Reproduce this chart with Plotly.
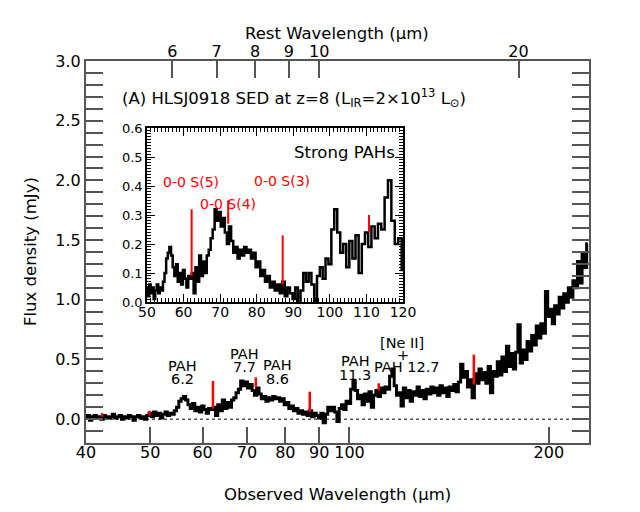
import numpy as np
import plotly.graph_objects as go

FONT = "DejaVu Sans"
W, H = 640, 512
# the page body adds an 8 px margin around the figure
OFF = 8

# redshift of the source, rest = observed / (1 + z)
z = 8.0

# spectrum: log-spaced channels starting at 40 micron (observed)
wave_start = 40.0
wave_ratio = 1.008
flux = [
    0.01, 0.03, -0.01, 0.02, 0.03, 0.01, 0.02, 0.00, 0.03, 0.02,
    0.01, 0.02, 0.04, 0.01, 0.02, 0.03, 0.00, 0.02, 0.01, 0.03,
    0.02, -0.01, 0.02, 0.03, 0.01, 0.02, 0.00, 0.03, 0.05, 0.02,
    0.06, 0.03, 0.05, 0.01, 0.04, 0.06, 0.03, 0.05, 0.04, 0.07,
    0.10, 0.15, 0.17, 0.19, 0.16, 0.12, 0.09, 0.13, 0.07, 0.10,
    0.06, 0.11, 0.08, 0.05, 0.09, 0.08, 0.10, 0.03, 0.12, 0.07,
    0.16, 0.09, 0.14, 0.10, 0.16, 0.18, 0.22, 0.25, 0.32, 0.28,
    0.31, 0.26, 0.29, 0.24, 0.20, 0.26, 0.21, 0.17, 0.19, 0.15,
    0.18, 0.16, 0.19, 0.17, 0.18, 0.15, 0.17, 0.12, 0.14, 0.09,
    0.11, 0.07, 0.09, 0.05, 0.07, 0.04, 0.06, 0.03, 0.07, 0.02,
    0.05, 0.03, 0.01, 0.05, -0.03, 0.04, 0.10, 0.07, 0.10, 0.06,
    -0.02, 0.09, 0.12, 0.08, 0.15, 0.13, 0.25, 0.32, 0.24, 0.17,
    0.20, 0.12, 0.21, 0.15, 0.23, 0.10, 0.20, 0.24, 0.19, 0.26,
    0.22, 0.27, 0.25, 0.36, 0.42, 0.28, 0.20, 0.22, 0.11, 0.26,
    0.18, 0.24, 0.15, 0.23, 0.20, 0.27, 0.19, 0.24, 0.17, 0.25,
    0.21, 0.27, 0.22, 0.26, 0.20, 0.28, 0.22, 0.26, 0.19, 0.27,
    0.24, 0.29, 0.23, 0.31, 0.46, 0.35, 0.40, 0.27, 0.33, 0.18,
    0.38, 0.30, 0.42, 0.33, 0.39, 0.30, 0.44, 0.22, 0.40, 0.36,
    0.48, 0.37, 0.52, 0.40, 0.61, 0.44, 0.55, 0.42, 0.56, 0.79,
    0.47, 0.58, 0.50, 0.65, 0.57, 0.70, 0.62, 0.78, 0.68, 0.80,
    0.72, 1.07, 0.86, 0.92, 0.80, 0.95, 0.88, 1.02, 0.93, 1.05,
    0.98, 1.10, 1.02, 1.16, 1.10, 1.32, 1.14, 1.39, 1.27, 1.47,
]
wave = wave_start * wave_ratio ** np.arange(len(flux))

# H2 0-0 S(n) lines (red marks): observed wavelength, bottom, top (mJy)
h2_wave = [42.3, 49.9, 62.2, 72.2, 87.1, 110.7, 154.1]
h2_low = [0.02, 0.03, 0.09, 0.27, 0.06, 0.24, 0.29]
h2_high = [0.05, 0.07, 0.32, 0.35, 0.23, 0.30, 0.54]

obs_range = [40, 230]
obs_ticks = [40, 50, 60, 70, 80, 90, 100, 200]
rest_ticks = [6, 7, 8, 9, 10, 20]
flux_ticks = [0.0, 0.5, 1.0, 1.5, 2.0, 2.5, 3.0]

inset_range = [50, 120]
inset_flux_range = [0, 0.6]


def px(x):
    return (x - OFF) / W


def py(y):
    return 1 - (y - OFF) / H


def segments(xs, lo, hi):
    sx, sy = [], []
    for w, a, b in zip(xs, lo, hi):
        sx += [w, w, None]
        sy += [a, b, None]
    return sx, sy


fig = go.Figure()

# main panel
fig.add_trace(go.Scatter(x=obs_range, y=[0, 0], mode="lines",
                         line=dict(color="#555555", width=1.5, dash="dot"),
                         hoverinfo="skip"))
fig.add_trace(go.Scatter(x=wave, y=flux, mode="lines",
                         line=dict(color="black", width=3, shape="hvh")))
rx, ry = segments(h2_wave, h2_low, h2_high)
fig.add_trace(go.Scatter(x=rx, y=ry, mode="lines",
                         line=dict(color="red", width=2.5)))
# dummy trace so the rest-frame axis is drawn
fig.add_trace(go.Scatter(x=rest_ticks, y=[-1] * len(rest_ticks),
                         xaxis="x2", yaxis="y", mode="markers",
                         marker=dict(opacity=0), hoverinfo="skip"))

# inset
fig.add_trace(go.Scatter(x=wave, y=flux, mode="lines", xaxis="x3", yaxis="y2",
                         line=dict(color="black", width=2.5, shape="hvh")))
inside = [k for k, w in enumerate(h2_wave) if inset_range[0] < w < inset_range[1]]
rx2, ry2 = segments([h2_wave[k] for k in inside],
                    [h2_low[k] for k in inside],
                    [h2_high[k] for k in inside])
fig.add_trace(go.Scatter(x=rx2, y=ry2, mode="lines", xaxis="x3", yaxis="y2",
                         line=dict(color="red", width=2)))

frame = "#555555"

fig.update_layout(
    width=W, height=H, template="none", showlegend=False,
    margin=dict(l=0, r=0, t=0, b=0),
    paper_bgcolor="white", plot_bgcolor="white",
    font=dict(family=FONT, color="black", size=16),
    xaxis=dict(type="log", domain=[px(86), px(589)], anchor="y",
               range=[np.log10(obs_range[0]), np.log10(obs_range[1])],
               tickvals=obs_ticks, ticktext=[str(t) for t in obs_ticks],
               ticks="inside", ticklen=16, tickwidth=1.5, tickcolor=frame,
               ticklabelstandoff=-6,
               showline=True, linecolor=frame, linewidth=2, mirror=True,
               showgrid=False, zeroline=False, tickfont=dict(size=16)),
    xaxis2=dict(type="log", overlaying="x", side="top", anchor="y",
                range=[np.log10(obs_range[0] / (1 + z)), np.log10(obs_range[1] / (1 + z))],
                tickvals=rest_ticks, ticktext=[str(t) for t in rest_ticks],
                ticks="inside", ticklen=17, tickwidth=1.5, tickcolor=frame,
                showline=False, showgrid=False, zeroline=False,
                tickfont=dict(size=16)),
    yaxis=dict(domain=[py(443), py(61)], anchor="x", range=[-0.2, 3.0],
               tickvals=flux_ticks, tickformat=".1f",
               ticks="inside", ticklen=17, tickwidth=1.5, tickcolor=frame,
               minor=dict(dtick=0.1, ticks="inside", ticklen=8, tickwidth=1.5,
                          tickcolor=frame, showgrid=False),
               showline=True, linecolor=frame, linewidth=2, mirror="allticks",
               showgrid=False, zeroline=False, tickfont=dict(size=16)),
    xaxis3=dict(domain=[px(147), px(403)], anchor="y2", range=inset_range,
                dtick=10, ticks="inside", ticklen=8, tickwidth=1.2, tickcolor="black",
                ticklabelstandoff=-4,
                minor=dict(dtick=1, ticks="inside", ticklen=4, tickwidth=1,
                           tickcolor="black", showgrid=False),
                showline=True, linecolor="black", linewidth=1.5, mirror="allticks",
                showgrid=False, zeroline=False, tickfont=dict(size=14)),
    yaxis2=dict(domain=[py(302), py(128)], anchor="x3", range=inset_flux_range,
                dtick=0.1, tickformat=".1f",
                ticks="inside", ticklen=8, tickwidth=1.2, tickcolor="black",
                minor=dict(dtick=0.01, ticks="inside", ticklen=4, tickwidth=1,
                           tickcolor="black", showgrid=False),
                showline=True, linecolor="black", linewidth=1.5, mirror="allticks",
                showgrid=False, zeroline=False, tickfont=dict(size=13)),
)


def note(text, x, y, size=14.5, color="black", xanchor="center", angle=0):
    return dict(text=text, x=px(x), y=py(y), xref="paper", yref="paper",
                showarrow=False, xanchor=xanchor, yanchor="middle",
                textangle=angle, font=dict(family=FONT, size=size, color=color))


notes = [
    note("Rest Wavelength (µm)", 337, 33, 16.5),
    note("Observed Wavelength (µm)", 337, 494, 16.5),
    note("Flux density (mJy)", 30, 252, 16.5, angle=-90),
    note("(A) HLSJ0918 SED at z=8 (L<sub>IR</sub>=2×10<sup>13</sup> L<sub>⊙</sub>)",
         120, 98, 16.5, xanchor="left"),
    note("PAH", 182, 366), note("6.2", 182, 379),
    note("PAH", 244, 354), note("7.7", 244, 367),
    note("PAH", 277, 365), note("8.6", 277, 379),
    note("PAH", 355, 361), note("11.3", 355, 375),
    note("[Ne II]", 402, 343), note("+", 403, 355), note("PAH 12.7", 407, 367),
    note("0-0 S(5)", 191, 182, 14, "red"),
    note("0-0 S(4)", 228, 204, 14, "red"),
    note("0-0 S(3)", 282, 181, 14, "red"),
    note("Strong PAHs", 397, 152, 16.5, xanchor="right"),
]
fig.update_layout(annotations=notes)

fig.write_html("out.html")
